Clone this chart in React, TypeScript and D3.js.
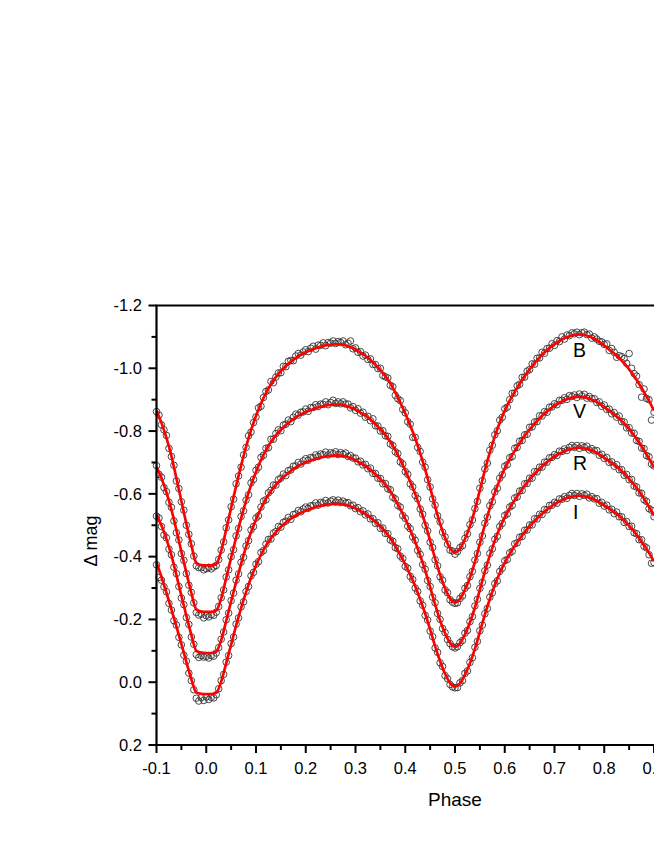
import React from "react";
import * as d3 from "d3";

// fitted light curves, phase -0.10 .. 0.90 every 0.01
const fitB = [
  -0.865, -0.826, -0.778, -0.72, -0.65, -0.577, -0.505, -0.437, -0.38, -0.373,
  -0.372, -0.372, -0.376, -0.418, -0.486, -0.556, -0.625, -0.69, -0.75, -0.803,
  -0.848, -0.888, -0.921, -0.949, -0.972, -0.991, -1.007, -1.021, -1.033, -1.043,
  -1.051, -1.058, -1.064, -1.069, -1.073, -1.075, -1.076, -1.076, -1.073, -1.067,
  -1.06, -1.05, -1.04, -1.026, -1.011, -0.994, -0.975, -0.952, -0.923, -0.891,
  -0.856, -0.818, -0.777, -0.73, -0.678, -0.62, -0.56, -0.505, -0.46, -0.427,
  -0.413, -0.425, -0.456, -0.497, -0.55, -0.612, -0.675, -0.732, -0.783, -0.827,
  -0.865, -0.897, -0.925, -0.951, -0.975, -0.997, -1.017, -1.035, -1.051, -1.065,
  -1.077, -1.087, -1.096, -1.102, -1.106, -1.108, -1.106, -1.101, -1.094, -1.084,
  -1.072, -1.06, -1.047, -1.033, -1.016, -0.997, -0.975, -0.951, -0.924, -0.896,
  -0.865,
];
const fitV = [
  -0.686, -0.65, -0.605, -0.55, -0.485, -0.416, -0.349, -0.285, -0.232, -0.225,
  -0.224, -0.224, -0.228, -0.267, -0.331, -0.397, -0.461, -0.522, -0.578, -0.628,
  -0.67, -0.708, -0.739, -0.765, -0.787, -0.804, -0.819, -0.832, -0.844, -0.853,
  -0.861, -0.867, -0.873, -0.877, -0.881, -0.883, -0.884, -0.884, -0.881, -0.875,
  -0.869, -0.859, -0.85, -0.837, -0.822, -0.806, -0.788, -0.766, -0.739, -0.708,
  -0.675, -0.639, -0.6, -0.555, -0.506, -0.451, -0.394, -0.342, -0.299, -0.267,
  -0.254, -0.265, -0.295, -0.333, -0.383, -0.442, -0.501, -0.555, -0.603, -0.645,
  -0.681, -0.711, -0.737, -0.762, -0.785, -0.805, -0.824, -0.841, -0.856, -0.869,
  -0.881, -0.89, -0.899, -0.904, -0.908, -0.91, -0.908, -0.903, -0.897, -0.888,
  -0.876, -0.865, -0.853, -0.84, -0.824, -0.807, -0.786, -0.764, -0.739, -0.712,
  -0.684,
];
const fitR = [
  -0.534, -0.499, -0.456, -0.404, -0.341, -0.276, -0.212, -0.151, -0.1, -0.094,
  -0.093, -0.093, -0.097, -0.134, -0.195, -0.258, -0.319, -0.377, -0.431, -0.478,
  -0.518, -0.554, -0.584, -0.609, -0.629, -0.646, -0.66, -0.673, -0.684, -0.693,
  -0.7, -0.706, -0.711, -0.716, -0.719, -0.721, -0.722, -0.722, -0.719, -0.714,
  -0.707, -0.698, -0.689, -0.676, -0.662, -0.647, -0.629, -0.608, -0.581, -0.552,
  -0.52, -0.485, -0.447, -0.404, -0.356, -0.303, -0.248, -0.197, -0.156, -0.126,
  -0.113, -0.124, -0.152, -0.19, -0.238, -0.295, -0.352, -0.404, -0.451, -0.491,
  -0.525, -0.555, -0.58, -0.604, -0.626, -0.646, -0.664, -0.68, -0.695, -0.708,
  -0.719, -0.728, -0.736, -0.742, -0.745, -0.747, -0.745, -0.741, -0.735, -0.726,
  -0.715, -0.704, -0.693, -0.68, -0.665, -0.648, -0.629, -0.608, -0.584, -0.559,
  -0.531,
];
const fitI = [
  -0.382, -0.335, -0.285, -0.232, -0.178, -0.122, -0.065, -0.01, 0.033, 0.037,
  0.038, 0.038, 0.034, -0.002, -0.06, -0.12, -0.18, -0.236, -0.287, -0.333,
  -0.372, -0.406, -0.435, -0.459, -0.478, -0.495, -0.509, -0.521, -0.531, -0.54,
  -0.546, -0.552, -0.558, -0.562, -0.565, -0.567, -0.568, -0.568, -0.565, -0.56,
  -0.554, -0.545, -0.536, -0.524, -0.511, -0.496, -0.479, -0.459, -0.434, -0.406,
  -0.375, -0.342, -0.306, -0.264, -0.219, -0.168, -0.115, -0.067, -0.027, 0.002,
  0.014, 0.004, -0.024, -0.06, -0.106, -0.16, -0.215, -0.265, -0.31, -0.348,
  -0.381, -0.409, -0.434, -0.457, -0.478, -0.497, -0.514, -0.53, -0.544, -0.556,
  -0.567, -0.576, -0.584, -0.589, -0.592, -0.594, -0.592, -0.588, -0.582, -0.573,
  -0.563, -0.553, -0.542, -0.53, -0.515, -0.499, -0.48, -0.459, -0.436, -0.412,
  -0.385,
];

// observed magnitudes, phase -0.100 .. 0.900 every 0.005
const obsB = [
  -0.862, -0.851, -0.82, -0.804, -0.786, -0.745, -0.719, -0.691, -0.641, -0.617, -0.575, -0.548, -0.5, -0.471, -0.441, -0.402, -0.371, -0.365, -0.365, -0.358,
  -0.362, -0.366, -0.361, -0.367, -0.372, -0.391, -0.421, -0.447, -0.492, -0.517, -0.559, -0.583, -0.632, -0.657, -0.685, -0.724, -0.748, -0.785, -0.797, -0.827,
  -0.845, -0.874, -0.879, -0.907, -0.926, -0.931, -0.958, -0.954, -0.972, -0.985, -0.986, -1.006, -1.005, -1.022, -1.025, -1.024, -1.039, -1.047, -1.042, -1.052,
  -1.059, -1.053, -1.064, -1.07, -1.061, -1.074, -1.073, -1.081, -1.072, -1.082, -1.08, -1.087, -1.079, -1.085, -1.082, -1.087, -1.075, -1.08, -1.087, -1.062,
  -1.065, -1.051, -1.053, -1.039, -1.042, -1.028, -1.03, -1.012, -1.012, -0.999, -1.0, -0.977, -0.973, -0.969, -0.946, -0.941, -0.914, -0.903, -0.897, -0.869,
  -0.858, -0.83, -0.822, -0.78, -0.78, -0.748, -0.735, -0.701, -0.685, -0.645, -0.622, -0.584, -0.564, -0.53, -0.511, -0.478, -0.463, -0.44, -0.421, -0.418,
  -0.408, -0.416, -0.429, -0.435, -0.458, -0.473, -0.502, -0.517, -0.553, -0.576, -0.618, -0.642, -0.679, -0.698, -0.739, -0.755, -0.788, -0.801, -0.835, -0.844,
  -0.871, -0.876, -0.9, -0.92, -0.921, -0.944, -0.949, -0.971, -0.972, -0.991, -0.996, -1.014, -1.013, -1.032, -1.033, -1.051, -1.048, -1.063, -1.064, -1.078,
  -1.073, -1.088, -1.085, -1.1, -1.093, -1.106, -1.104, -1.113, -1.11, -1.115, -1.107, -1.113, -1.115, -1.107, -1.109, -1.096, -1.1, -1.093, -1.086, -1.084,
  -1.076, -1.078, -1.057, -1.063, -1.051, -1.035, -1.04, -1.037, -1.031, -1.016, -1.047, -1.0, -0.983, -0.975, -0.948, -0.908, -0.934, -0.904, -0.9, -0.835,
  -0.86,
];
const obsV = [
  -0.69, -0.662, -0.653, -0.62, -0.607, -0.573, -0.557, -0.514, -0.476, -0.453, -0.41, -0.388, -0.346, -0.309, -0.286, -0.253, -0.222, -0.214, -0.217, -0.205,
  -0.212, -0.208, -0.215, -0.213, -0.223, -0.241, -0.269, -0.294, -0.335, -0.358, -0.4, -0.422, -0.466, -0.49, -0.528, -0.546, -0.58, -0.597, -0.635, -0.646,
  -0.675, -0.685, -0.716, -0.723, -0.745, -0.747, -0.774, -0.774, -0.792, -0.804, -0.801, -0.819, -0.822, -0.835, -0.83, -0.844, -0.854, -0.851, -0.86, -0.861,
  -0.87, -0.863, -0.875, -0.875, -0.884, -0.878, -0.886, -0.885, -0.893, -0.884, -0.891, -0.898, -0.888, -0.893, -0.887, -0.893, -0.886, -0.886, -0.874, -0.878,
  -0.866, -0.871, -0.857, -0.86, -0.844, -0.847, -0.833, -0.839, -0.817, -0.816, -0.8, -0.801, -0.785, -0.783, -0.759, -0.754, -0.734, -0.728, -0.702, -0.695,
  -0.671, -0.662, -0.632, -0.622, -0.595, -0.584, -0.552, -0.535, -0.5, -0.482, -0.446, -0.429, -0.39, -0.371, -0.336, -0.325, -0.294, -0.285, -0.263, -0.255,
  -0.251, -0.253, -0.267, -0.275, -0.299, -0.308, -0.336, -0.353, -0.389, -0.41, -0.446, -0.466, -0.506, -0.526, -0.562, -0.575, -0.606, -0.618, -0.65, -0.661,
  -0.688, -0.693, -0.715, -0.719, -0.745, -0.748, -0.768, -0.77, -0.788, -0.79, -0.812, -0.813, -0.829, -0.83, -0.849, -0.848, -0.862, -0.86, -0.876, -0.877,
  -0.887, -0.884, -0.898, -0.898, -0.906, -0.901, -0.913, -0.91, -0.915, -0.907, -0.918, -0.912, -0.917, -0.905, -0.91, -0.903, -0.903, -0.891, -0.893, -0.879,
  -0.883, -0.869, -0.87, -0.855, -0.859, -0.844, -0.848, -0.83, -0.829, -0.81, -0.811, -0.794, -0.793, -0.77, -0.767, -0.746, -0.744, -0.722, -0.718, -0.695,
  -0.689,
];
const obsR = [
  -0.529, -0.523, -0.496, -0.469, -0.46, -0.424, -0.406, -0.366, -0.346, -0.305, -0.268, -0.247, -0.206, -0.184, -0.144, -0.121, -0.088, -0.079, -0.085, -0.08,
  -0.082, -0.077, -0.085, -0.083, -0.093, -0.11, -0.137, -0.16, -0.199, -0.22, -0.26, -0.284, -0.325, -0.345, -0.382, -0.398, -0.434, -0.451, -0.485, -0.496,
  -0.523, -0.53, -0.558, -0.577, -0.581, -0.603, -0.611, -0.628, -0.628, -0.645, -0.65, -0.663, -0.658, -0.674, -0.676, -0.688, -0.689, -0.7, -0.695, -0.705,
  -0.712, -0.707, -0.716, -0.715, -0.724, -0.719, -0.727, -0.725, -0.733, -0.724, -0.731, -0.728, -0.734, -0.725, -0.731, -0.726, -0.73, -0.719, -0.722, -0.714,
  -0.714, -0.702, -0.704, -0.692, -0.694, -0.68, -0.682, -0.665, -0.665, -0.65, -0.649, -0.632, -0.633, -0.616, -0.613, -0.589, -0.584, -0.563, -0.558, -0.531,
  -0.522, -0.497, -0.489, -0.463, -0.452, -0.42, -0.407, -0.375, -0.36, -0.324, -0.305, -0.271, -0.253, -0.219, -0.2, -0.171, -0.158, -0.136, -0.123, -0.113,
  -0.109, -0.113, -0.126, -0.133, -0.156, -0.165, -0.193, -0.209, -0.243, -0.264, -0.299, -0.318, -0.355, -0.373, -0.41, -0.425, -0.455, -0.465, -0.496, -0.506,
  -0.531, -0.536, -0.558, -0.563, -0.587, -0.59, -0.609, -0.611, -0.632, -0.633, -0.65, -0.65, -0.671, -0.67, -0.685, -0.685, -0.701, -0.701, -0.715, -0.716,
  -0.725, -0.722, -0.736, -0.735, -0.743, -0.738, -0.748, -0.754, -0.748, -0.754, -0.745, -0.753, -0.748, -0.752, -0.74, -0.744, -0.737, -0.738, -0.723, -0.726,
  -0.713, -0.716, -0.7, -0.702, -0.688, -0.693, -0.677, -0.677, -0.659, -0.662, -0.645, -0.646, -0.625, -0.622, -0.603, -0.602, -0.581, -0.576, -0.553, -0.548,
  -0.527,
];
const obsI = [
  -0.374, -0.334, -0.325, -0.304, -0.288, -0.251, -0.23, -0.196, -0.182, -0.143, -0.119, -0.086, -0.067, -0.029, -0.005, 0.024, 0.051, 0.06, 0.049, 0.058,
  0.047, 0.055, 0.048, 0.05, 0.04, 0.021, -0.005, -0.025, -0.064, -0.085, -0.123, -0.144, -0.185, -0.205, -0.24, -0.256, -0.289, -0.305, -0.339, -0.35,
  -0.376, -0.384, -0.413, -0.419, -0.44, -0.455, -0.456, -0.475, -0.48, -0.496, -0.494, -0.509, -0.513, -0.525, -0.519, -0.534, -0.536, -0.547, -0.543, -0.552,
  -0.558, -0.554, -0.562, -0.562, -0.571, -0.564, -0.573, -0.571, -0.579, -0.571, -0.577, -0.581, -0.574, -0.58, -0.572, -0.577, -0.571, -0.572, -0.562, -0.564,
  -0.553, -0.556, -0.543, -0.546, -0.533, -0.536, -0.52, -0.521, -0.506, -0.508, -0.49, -0.491, -0.474, -0.473, -0.453, -0.449, -0.429, -0.425, -0.402, -0.394,
  -0.369, -0.363, -0.337, -0.327, -0.3, -0.289, -0.259, -0.245, -0.213, -0.198, -0.163, -0.145, -0.109, -0.095, -0.062, -0.05, -0.021, -0.011, 0.007, 0.015,
  0.018, 0.017, 0.002, -0.005, -0.028, -0.036, -0.063, -0.078, -0.111, -0.13, -0.164, -0.182, -0.218, -0.235, -0.271, -0.285, -0.314, -0.323, -0.353, -0.363,
  -0.387, -0.391, -0.412, -0.417, -0.441, -0.444, -0.462, -0.464, -0.484, -0.485, -0.501, -0.501, -0.521, -0.52, -0.535, -0.534, -0.55, -0.549, -0.563, -0.564,
  -0.573, -0.57, -0.584, -0.583, -0.591, -0.586, -0.595, -0.601, -0.595, -0.601, -0.592, -0.6, -0.595, -0.599, -0.587, -0.591, -0.584, -0.585, -0.57, -0.573,
  -0.561, -0.564, -0.549, -0.551, -0.537, -0.542, -0.527, -0.527, -0.509, -0.512, -0.496, -0.497, -0.476, -0.473, -0.454, -0.454, -0.433, -0.428, -0.406, -0.379,
  -0.381,
];

const bandNames = ["B", "V", "R", "I"];
const fits = [fitB, fitV, fitR, fitI];
const obs = [obsB, obsV, obsR, obsI];
// label position (phase, mag) of each band name
const labelPhase = [0.737, 0.737, 0.737, 0.737];
const labelMag = [-1.037, -0.841, -0.677, -0.521];

const xMajor = [-0.1, 0.0, 0.1, 0.2, 0.3, 0.4, 0.5, 0.6, 0.7, 0.8, 0.9, 1.0, 1.1];
const xMinor = [-0.05, 0.05, 0.15, 0.25, 0.35, 0.45, 0.55, 0.65, 0.75, 0.85, 0.95, 1.05];
const yMajor = [-1.2, -1.0, -0.8, -0.6, -0.4, -0.2, 0.0, 0.2];
const yMinor = [-1.1, -0.9, -0.7, -0.5, -0.3, -0.1, 0.1];

const width = 654;
const height = 846;
const font = "'Liberation Sans', Arial, sans-serif";

export default function App() {
  const x = d3.scaleLinear().domain([-0.1, 1.1]).range([156.5, 753.5]);
  const y = d3.scaleLinear().domain([-1.2, 0.2]).range([305.5, 745]);

  const line = d3
    .line<number>()
    .x((d, i) => x(-0.1 + i * 0.01))
    .y((d) => y(d))
    .curve(d3.curveMonotoneX);

  const fmt = (v: number) => (Math.abs(v) < 1e-9 ? "0.0" : v.toFixed(1));

  const [x0, x1] = x.range();
  const [yTop, yBot] = y.range();

  return (
    <svg
      width={width}
      height={height}
      style={{ position: "absolute", left: 0, top: 0, background: "#fff" }}
      fontFamily={font}
    >
      {/* observations */}
      {obs.map((series, k) => (
        <g key={"obs" + k} fill="none" stroke="#333" strokeWidth={0.9}>
          {series.map((v, i) => (
            <circle key={i} cx={x(-0.1 + i * 0.005)} cy={y(v)} r={3.3} />
          ))}
        </g>
      ))}

      {/* fitted curves */}
      {fits.map((series, k) => (
        <path key={"fit" + k} d={line(series) ?? ""} fill="none" stroke="#ff0000" strokeWidth={2.7} />
      ))}

      {/* band names */}
      {bandNames.map((name, k) => (
        <text key={name} x={x(labelPhase[k])} y={y(labelMag[k])} fontSize={19.5}>
          {name}
        </text>
      ))}

      {/* frame */}
      <g stroke="#000" strokeWidth={2.2} fill="none">
        <line x1={x0} x2={x0} y1={yTop} y2={yBot} />
        <line x1={x0 - 1} x2={x1} y1={yBot} y2={yBot} />
        <line x1={x0 - 1} x2={x1} y1={yTop} y2={yTop} />
        <line x1={x1} x2={x1} y1={yTop} y2={yBot} />
      </g>

      {/* ticks */}
      <g stroke="#000" strokeWidth={2}>
        {xMajor.map((t) => (
          <line key={"xM" + t} x1={x(t)} x2={x(t)} y1={yBot} y2={yBot + 8} />
        ))}
        {xMinor.map((t) => (
          <line key={"xm" + t} x1={x(t)} x2={x(t)} y1={yBot} y2={yBot + 5} />
        ))}
        {yMajor.map((t) => (
          <line key={"yM" + t} x1={x0 - 8} x2={x0} y1={y(t)} y2={y(t)} />
        ))}
        {yMinor.map((t) => (
          <line key={"ym" + t} x1={x0 - 5} x2={x0} y1={y(t)} y2={y(t)} />
        ))}
      </g>

      <g fontSize={16.5} fill="#000">
        {xMajor.map((t) => (
          <text key={"xl" + t} x={x(t)} y={773.5} textAnchor="middle">
            {fmt(t)}
          </text>
        ))}
        {yMajor.map((t) => (
          <text key={"yl" + t} x={142} y={y(t)} dy="0.35em" textAnchor="end">
            {fmt(t)}
          </text>
        ))}
      </g>

      <text x={(x0 + x1) / 2} y={806} textAnchor="middle" fontSize={19}>
        Phase
      </text>
      <text
        transform={`translate(97, 541) rotate(-90)`}
        textAnchor="middle"
        fontSize={18}
      >
        Δ mag
      </text>
    </svg>
  );
}
